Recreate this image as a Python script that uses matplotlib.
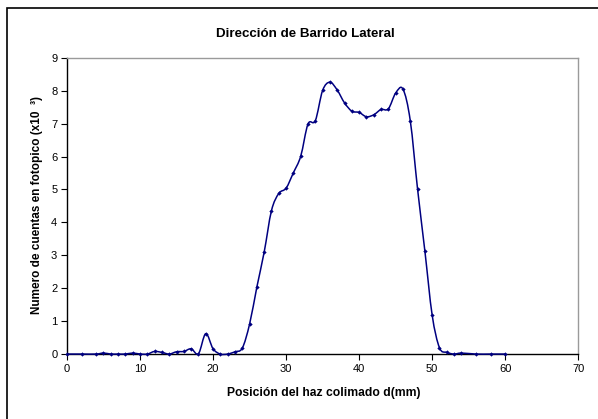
import matplotlib
matplotlib.use('Agg')
import matplotlib.pyplot as plt
import numpy as np
from matplotlib.path import Path
from matplotlib.patches import PathPatch, Rectangle

plt.rcParams['font.family'] = ['Liberation Sans', 'DejaVu Sans']

# Lateral scan: collimated beam position (mm) vs photopeak counts (x10^3)
posicion = [0, 2, 4, 5, 6, 7, 8, 9, 10, 11, 12, 13, 14, 15, 16, 17, 18, 19,
            20, 21, 22, 23, 24, 25, 26, 27, 28, 29, 30, 31, 32, 33, 34, 35,
            36, 37, 38, 39, 40, 41, 42, 43, 44, 45, 46, 47, 48, 49, 50, 51,
            52, 53, 54, 56, 58, 60]
cuentas = [0, 0, 0, 0.03, 0, 0, 0, 0.03, 0, 0, 0.08, 0.05, 0, 0.07, 0.08,
           0.16, 0.01, 0.62, 0.16, 0, 0, 0.07, 0.18, 0.91, 2.04, 3.10, 4.36,
           4.88, 5.04, 5.51, 6.01, 6.99, 7.09, 8.01, 8.26, 8.02, 7.63, 7.38,
           7.34, 7.21, 7.27, 7.43, 7.45, 7.93, 8.05, 7.09, 5.01, 3.13, 1.18,
           0.19, 0.05, 0, 0.03, 0, 0, 0]

x_ticks = np.arange(0, 71, 10)
y_ticks = np.arange(0, 10, 1)

LINE = '#000080'

fig = plt.figure(figsize=(5.98, 4.19), dpi=100, facecolor='white')
ax = fig.add_axes([0.112, 0.155, 0.855, 0.707])

# smoothed line as cubic bezier segments (spreadsheet-style smoothing)
pts = np.column_stack([posicion, cuentas])
ext = np.vstack([pts[0], pts, pts[-1]])
verts = [tuple(pts[0])]
codes = [Path.MOVETO]
for i in range(len(pts) - 1):
    p0, p1, p2, p3 = ext[i], ext[i + 1], ext[i + 2], ext[i + 3]
    c1 = p1 + (p2 - p0) / 6.0
    c2 = p2 - (p3 - p1) / 6.0
    verts += [tuple(c1), tuple(c2), tuple(p2)]
    codes += [Path.CURVE4] * 3
ax.add_patch(PathPatch(Path(verts, codes), facecolor='none', edgecolor=LINE,
                       linewidth=1.1, zorder=3, clip_on=False))
ax.plot(posicion, cuentas, linestyle='none', marker='D', markersize=2.2,
        color=LINE, markeredgewidth=0, zorder=4, clip_on=False)

ax.set_xlim(0, 70)
ax.set_ylim(0, 9)
ax.set_xticks(x_ticks)
ax.set_yticks(y_ticks)
ax.tick_params(direction='out', length=4, width=0.8, labelsize=8, pad=3,
               colors='black')

for side in ['top', 'right']:
    ax.spines[side].set_color('#9a9a9a')
    ax.spines[side].set_linewidth(1.0)
for side in ['left', 'bottom']:
    ax.spines[side].set_color('black')
    ax.spines[side].set_linewidth(1.0)

fig.text(305 / 598, 1 - 34 / 419, 'Dirección de Barrido Lateral',
         fontsize=9.6, fontweight='bold', ha='center', va='center')
ax.set_xlabel('Posición del haz colimado d(mm)', fontsize=8.7,
              fontweight='bold', va='center')
ax.xaxis.set_label_coords(0.502, -0.132)
ax.set_ylabel('Numero de cuentas en fotopico (x10  ³)', fontsize=8.5,
              fontweight='bold', va='center')
ax.yaxis.set_label_coords(-0.059, 0.503)

# outer chart frame
fig.patches.append(Rectangle((7 / 598, -0.1), 1.2, 1 - 8 / 419 + 0.1,
                             transform=fig.transFigure, fill=False,
                             edgecolor='black', linewidth=1.2))

fig.savefig('out.png', dpi=100, facecolor='white')
